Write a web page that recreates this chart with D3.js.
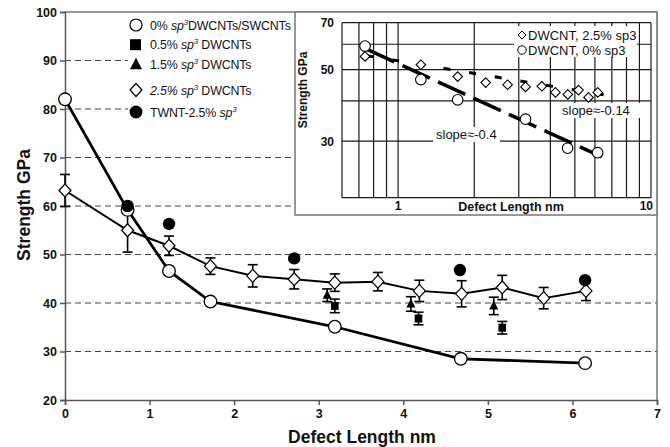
<!DOCTYPE html>
<html><head><meta charset="utf-8">
<script src="https://cdn.jsdelivr.net/npm/d3@7"></script>
<style>body{margin:0;background:#fff}svg{display:block;font-family:"Liberation Sans",Arial,Helvetica,sans-serif}</style>
</head><body><svg id="c" width="670" height="447"></svg>
<script>
// ---------- data ----------
const xTicks=[0,1,2,3,4,5,6,7];
const yTicks=[20,30,40,50,60,70,80,90,100];
const gridY=[30,40,50,60,70,80,90];
const pureX=[0,0.74,1.23,1.72,3.19,4.68,6.15];
const pureY=[82,59.2,46.6,40.3,35.1,28.5,27.6];
const sp25X=[0,0.74,1.23,1.72,2.22,2.71,3.19,3.70,4.19,4.69,5.17,5.66,6.16];
const sp25Y=[63.2,55.0,51.8,47.6,45.6,44.9,44.2,44.4,42.5,41.9,43.2,41.0,42.5];
const sp25Err=[3.3,4.5,2.0,1.7,2.3,2.0,1.8,1.9,2.2,2.7,2.5,2.2,2.0];
const sp05X=[3.19,4.18,5.17];
const sp05Y=[39.4,36.8,34.9];
const sp05Err=[1.4,1.3,1.3];
const sp15X=[3.10,4.09,5.07];
const sp15Y=[41.6,39.8,39.4];
const sp15Err=[1.3,1.5,1.8];
const twntX=[0.74,1.23,2.71,4.67,6.15];
const twntY=[60.0,56.3,49.2,46.8,44.7];
const insetXTicks=[1,10];
const insetYTicks=[30,50,70];
const insetXGrid=[0.6,0.7,0.8,0.9,1,2,3,4,5,6,7,8,9,10];
const insetYGrid=[20,30,40,50,60,70];
const fit1X=[0.754,6.39], fit1Y=[57.8,26.8];
const fit2X=[0.75,6.5], fit2Y=[55.3,41.8];

// ---------- main chart ----------
const svg=d3.select("#c");
const x=d3.scaleLinear().domain([0,7]).range([65,657]);
const y=d3.scaleLinear().domain([20,100]).range([400,12]);

svg.append("g").selectAll("line").data(gridY).join("line")
  .attr("x1",x(0)).attr("x2",x(7)).attr("y1",d=>y(d)).attr("y2",d=>y(d))
  .attr("stroke","#444").attr("stroke-width",1).attr("stroke-dasharray","6,4");

svg.append("path").attr("d",`M${x(0)},${y(100)}H${x(7)}V${y(20)}`)
  .attr("fill","none").attr("stroke","#777").attr("stroke-width",1.5);

const ya=svg.append("g").attr("transform",`translate(${x(0)},0)`)
  .call(d3.axisLeft(y).tickValues(yTicks).tickFormat(d3.format("d")).tickSize(5).tickPadding(3));
const xa=svg.append("g").attr("transform",`translate(0,${y(20)})`)
  .call(d3.axisBottom(x).tickValues(xTicks).tickFormat(d3.format("d")).tickSize(5).tickPadding(4));
[ya,xa].forEach(g=>{
  g.selectAll(".domain").attr("stroke","#555").attr("stroke-width",1.5);
  g.selectAll(".tick line").attr("stroke","#555").attr("stroke-width",1.5);
  g.selectAll(".tick text").attr("font-size",12.5).attr("font-weight","bold")
    .attr("fill","#111").attr("font-family","Liberation Sans, Arial, sans-serif");
});

svg.append("text").attr("x",362).attr("y",443).attr("text-anchor","middle")
  .attr("font-size",17.5).attr("font-weight","bold").attr("fill","#111")
  .text("Defect Length nm");
svg.append("text").attr("transform","translate(30,205) rotate(-90)").attr("text-anchor","middle")
  .attr("font-size",17.5).attr("font-weight","bold").attr("fill","#111")
  .text("Strength GPa");

// lines
const line=d3.line().x(d=>x(d[0])).y(d=>y(d[1]));
svg.append("path").attr("d",line(sp25X.map((v,i)=>[v,sp25Y[i]])))
  .attr("fill","none").attr("stroke","#000").attr("stroke-width",2);
svg.append("path").attr("d",line(pureX.map((v,i)=>[v,pureY[i]])))
  .attr("fill","none").attr("stroke","#000").attr("stroke-width",2.8);

// error bars
function errBars(xs,ys,es){
  const g=svg.append("g").attr("stroke","#000").attr("stroke-width",1.6);
  xs.forEach((v,i)=>{
    const cx=x(v), y1=y(ys[i]+es[i]), y2=y(ys[i]-es[i]);
    g.append("line").attr("x1",cx).attr("x2",cx).attr("y1",y1).attr("y2",y2);
    g.append("line").attr("x1",cx-5).attr("x2",cx+5).attr("y1",y1).attr("y2",y1);
    g.append("line").attr("x1",cx-5).attr("x2",cx+5).attr("y1",y2).attr("y2",y2);
  });
}
errBars(sp25X,sp25Y,sp25Err);
errBars(sp15X,sp15Y,sp15Err);
errBars(sp05X,sp05Y,sp05Err);

const diamond=(w,h)=>`M0,${-h}L${w},0L0,${h}L${-w},0Z`;
svg.append("g").selectAll("path").data(sp25X).join("path")
  .attr("transform",(d,i)=>`translate(${x(d)},${y(sp25Y[i])})`)
  .attr("d",diamond(6,6.5)).attr("fill","#fff").attr("stroke","#000").attr("stroke-width",1.2);
svg.append("g").selectAll("circle").data(pureX).join("circle")
  .attr("cx",d=>x(d)).attr("cy",(d,i)=>y(pureY[i])).attr("r",6.3)
  .attr("fill","#fff").attr("stroke","#000").attr("stroke-width",1.3);
svg.append("g").selectAll("rect").data(sp05X).join("rect")
  .attr("x",d=>x(d)-3.8).attr("y",(d,i)=>y(sp05Y[i])-4).attr("width",7.6).attr("height",8).attr("fill","#000");
svg.append("g").selectAll("path").data(sp15X).join("path")
  .attr("transform",(d,i)=>`translate(${x(d)},${y(sp15Y[i])})`)
  .attr("d","M0,-5.5L4.5,3.5L-4.5,3.5Z").attr("fill","#000");
svg.append("g").selectAll("circle").data(twntX).join("circle")
  .attr("cx",d=>x(d)).attr("cy",(d,i)=>y(twntY[i])).attr("r",6.2).attr("fill","#000");

// legend
const lg=svg.append("g");
lg.append("rect").attr("x",128).attr("y",13).attr("width",166).attr("height",112).attr("fill","#fff");
const rows=[25,44.7,64.3,90,112];
lg.append("circle").attr("cx",136).attr("cy",rows[0]).attr("r",6).attr("fill","#fff").attr("stroke","#000").attr("stroke-width",1.2);
lg.append("rect").attr("x",130).attr("y",rows[1]-5.5).attr("width",11).attr("height",11).attr("fill","#000");
lg.append("path").attr("transform",`translate(136,${rows[2]})`).attr("d","M0,-6.5L6,5L-6,5Z").attr("fill","#000");
lg.append("path").attr("transform",`translate(136,${rows[3]})`).attr("d",diamond(6,6.5)).attr("fill","#fff").attr("stroke","#000").attr("stroke-width",1.2);
lg.append("circle").attr("cx",136).attr("cy",rows[4]).attr("r",6.5).attr("fill","#000");
const labels=[
  [["0% ",0],["sp",1],["3",2],["DWCNTs/SWCNTs",3]],
  [["0.5% ",0],["sp",1],["3",2],[" DWCNTs",3]],
  [["1.5% ",0],["sp",1],["3",2],[" DWCNTs",3]],
  [["2.5% sp",1],["3",2],[" DWCNTs",3]],
  [["TWNT-2.5% ",0],["sp",1],["3",2]]
];
labels.forEach((parts,i)=>{
  const t=lg.append("text").attr("x",150).attr("y",rows[i]+4.5).attr("font-size",12.4)
    .attr("letter-spacing",-0.15).attr("fill","#111");
  parts.forEach(p=>{
    const s=t.append("tspan").text(p[0]);
    if(p[1]===1||p[1]===2) s.attr("font-style","italic");
    if(p[1]===2) s.attr("font-size",8).attr("dy",-5);
    if(p[1]===3) s.attr("dy",5);
  });
});

// ---------- inset ----------
const ig=svg.append("g");
ig.append("rect").attr("x",295).attr("y",12).attr("width",362).attr("height",203)
  .attr("fill","#fff").attr("stroke","#777").attr("stroke-width",1.5);
const ix=d3.scaleLog().domain([0.6,10]).range([342,651]);
const iy=d3.scaleLog().domain([20,70]).range([197.7,22.7]);
ig.append("g").selectAll("line").data(insetXGrid).join("line")
  .attr("x1",d=>ix(d)).attr("x2",d=>ix(d)).attr("y1",iy(20)).attr("y2",iy(70))
  .attr("stroke","#1a1a1a").attr("stroke-width",1.2);
ig.append("g").selectAll("line").data(insetYGrid).join("line")
  .attr("x1",ix(0.6)).attr("x2",ix(10)).attr("y1",d=>iy(d)).attr("y2",d=>iy(d))
  .attr("stroke","#1a1a1a").attr("stroke-width",1.2);
ig.append("g").selectAll("text").data(insetYTicks).join("text")
  .attr("x",334).attr("y",d=>iy(d)+4.5).attr("text-anchor","end")
  .attr("font-size",12).attr("font-weight","bold").attr("fill","#111").text(d=>d);
ig.append("g").selectAll("text").data(insetXTicks).join("text")
  .attr("x",d=>d===10?ix(d)+2:ix(d)).attr("y",210).attr("text-anchor",d=>d===10?"end":"middle")
  .attr("font-size",12).attr("font-weight","bold").attr("fill","#111").text(d=>d);
ig.append("text").attr("x",511).attr("y",211).attr("text-anchor","middle")
  .attr("font-size",12.5).attr("font-weight","bold").attr("fill","#111").text("Defect Length nm");
ig.append("text").attr("transform","translate(307,90) rotate(-90)").attr("text-anchor","middle")
  .attr("font-size",12).attr("font-weight","bold").attr("fill","#111").text("Strength GPa");

// inset legend
ig.append("rect").attr("x",514).attr("y",26).attr("width",123).attr("height",31).attr("fill","#fff");
ig.append("path").attr("transform","translate(522,35)").attr("d",diamond(4,4)).attr("fill","#fff").attr("stroke","#000").attr("stroke-width",1);
ig.append("circle").attr("cx",522).attr("cy",50).attr("r",4.2).attr("fill","#fff").attr("stroke","#000").attr("stroke-width",1);
ig.append("text").attr("x",528).attr("y",40).attr("font-size",13).attr("fill","#111").text("DWCNT, 2.5% sp3");
ig.append("text").attr("x",528).attr("y",55).attr("font-size",13).attr("fill","#111").text("DWCNT, 0% sp3");

// slope labels
ig.append("rect").attr("x",433).attr("y",127).attr("width",67).attr("height",15).attr("fill","#fff");
ig.append("text").attr("x",436).attr("y",139).attr("font-size",13).attr("fill","#111").text("slope\u2248-0.4");
ig.append("rect").attr("x",559).attr("y",103).attr("width",91).attr("height",15).attr("fill","#fff");
ig.append("text").attr("x",562).attr("y",115).attr("font-size",13).attr("fill","#111").text("slope\u2248-0.14");

// fit lines
const iline=d3.line().x(d=>ix(d[0])).y(d=>iy(d[1]));
ig.append("path").attr("d",iline(fit2X.map((v,i)=>[v,fit2Y[i]])))
  .attr("fill","none").attr("stroke","#000").attr("stroke-width",3).attr("stroke-dasharray","7,19");
ig.append("path").attr("d",iline(fit1X.map((v,i)=>[v,fit1Y[i]])))
  .attr("fill","none").attr("stroke","#000").attr("stroke-width",3.5).attr("stroke-dasharray","30,9");

// inset markers (non-zero defect lengths)
const iD=sp25X.map((v,i)=>[v,sp25Y[i]]).filter(d=>d[0]>0);
const iC=pureX.map((v,i)=>[v,pureY[i]]).filter(d=>d[0]>0);
ig.append("g").selectAll("path").data(iD).join("path")
  .attr("transform",d=>`translate(${ix(d[0])},${iy(d[1])})`)
  .attr("d",diamond(4.8,4.8)).attr("fill","#fff").attr("stroke","#000").attr("stroke-width",1.1);
ig.append("g").selectAll("circle").data(iC).join("circle")
  .attr("cx",d=>ix(d[0])).attr("cy",d=>iy(d[1])).attr("r",5.3)
  .attr("fill","#fff").attr("stroke","#000").attr("stroke-width",1.1);
</script></body></html>
